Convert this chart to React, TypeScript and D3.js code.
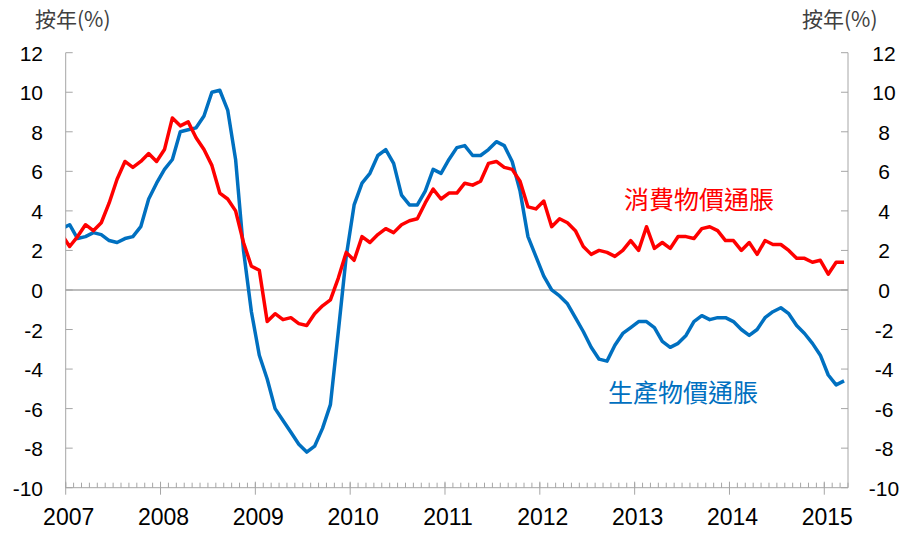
import * as React from 'react';
import * as d3 from 'd3';

// monthly, Dec 2006 .. Mar 2015 (year-on-year %)
const startYear = 2006;
const startMonth = 11; // December (0-based)
const cpi = [
  2.8,
  2.2, 2.7, 3.3, 3.0, 3.4, 4.4, 5.6, 6.5, 6.2, 6.5, 6.9, 6.5,
  7.1, 8.7, 8.3, 8.5, 7.7, 7.1, 6.3, 4.9, 4.6, 4.0, 2.4, 1.2,
  1.0, -1.6, -1.2, -1.5, -1.4, -1.7, -1.8, -1.2, -0.8, -0.5, 0.6, 1.9,
  1.5, 2.7, 2.4, 2.8, 3.1, 2.9, 3.3, 3.5, 3.6, 4.4, 5.1, 4.6,
  4.9, 4.9, 5.4, 5.3, 5.5, 6.4, 6.5, 6.2, 6.1, 5.5, 4.2, 4.1,
  4.5, 3.2, 3.6, 3.4, 3.0, 2.2, 1.8, 2.0, 1.9, 1.7, 2.0, 2.5,
  2.0, 3.2, 2.1, 2.4, 2.1, 2.7, 2.7, 2.6, 3.1, 3.2, 3.0, 2.5,
  2.5, 2.0, 2.4, 1.8, 2.5, 2.3, 2.3, 2.0, 1.6, 1.6, 1.4, 1.5,
  0.8, 1.4, 1.4,
];
const ppi = [
  3.1,
  3.3, 2.6, 2.7, 2.9, 2.8, 2.5, 2.4, 2.6, 2.7, 3.2, 4.6, 5.4,
  6.1, 6.6, 8.0, 8.1, 8.2, 8.8, 10.0, 10.1, 9.1, 6.6, 2.0, -1.1,
  -3.3, -4.5, -6.0, -6.6, -7.2, -7.8, -8.2, -7.9, -7.0, -5.8, -2.1, 1.7,
  4.3, 5.4, 5.9, 6.8, 7.1, 6.4, 4.8, 4.3, 4.3, 5.0, 6.1, 5.9,
  6.6, 7.2, 7.3, 6.8, 6.8, 7.1, 7.5, 7.3, 6.5, 5.0, 2.7, 1.7,
  0.7, 0.0, -0.3, -0.7, -1.4, -2.1, -2.9, -3.5, -3.6, -2.8, -2.2, -1.9,
  -1.6, -1.6, -1.9, -2.6, -2.9, -2.7, -2.3, -1.6, -1.3, -1.5, -1.4, -1.4,
  -1.6, -2.0, -2.3, -2.0, -1.4, -1.1, -0.9, -1.2, -1.8, -2.2, -2.7, -3.3,
  -4.3, -4.8, -4.6,
];
const yearLabels = ['2007', '2008', '2009', '2010', '2011', '2012', '2013', '2014', '2015'];
const yTicks = [12, 10, 8, 6, 4, 2, 0, -2, -4, -6, -8, -10];
const cpiLabel = '消費物價通脹';
const ppiLabel = '生產物價通脹';
const axisTitle = '按年(%)';

const W = 912;
const H = 535;
const left = 65.7;
const right = 848;
const top = 52.7;
const bottom = 487.7;
const totalMonths = 99; // Jan 2007 .. Mar 2015 + 1
const numFont = '"Liberation Sans", Arial, sans-serif';
const cjkFont = '"Noto Sans CJK TC", "Noto Sans CJK SC", sans-serif';

// month index counted from Jan 2007
const idx = (i: number) => (startYear - 2007) * 12 + startMonth + i;

export default function App() {
  const x = d3.scaleLinear().domain([0, totalMonths]).range([left, right]);
  const y = d3.scaleLinear().domain([-10, 12]).range([bottom, top]);

  const line = d3.line<number>()
    .x((_, i) => x(idx(i) + 0.5))
    .y(d => y(d));

  const minor = d3.range(0, totalMonths + 1);
  const major = yearLabels.map((_, i) => i * 12);
  const grey = '#A6A6A6';

  return (
    <svg width={W} height={H} style={{ position: 'absolute', left: 0, top: 0, background: '#fff' }}>
      <defs>
        <clipPath id="plot">
          <rect x={left} y={0} width={right - left} height={H} />
        </clipPath>
      </defs>

      {/* axis titles */}
      <text x={35} y={27} fontFamily={cjkFont} fontSize={21} fill="#404040">{axisTitle}</text>
      <text x={802} y={27} fontFamily={cjkFont} fontSize={21} fill="#404040">{axisTitle}</text>

      {/* zero line */}
      <line x1={left} x2={right} y1={y(0)} y2={y(0)} stroke={grey} strokeWidth={1.5} />

      {/* left axis */}
      <line x1={left} x2={left} y1={top} y2={bottom} stroke={grey} />
      {yTicks.map(t => (
        <g key={'l' + t}>
          <line x1={left} x2={left + 7} y1={y(t)} y2={y(t)} stroke={grey} />
          <text x={43} y={y(t) + 8} textAnchor="end" fontFamily={numFont} fontSize={21} fill="#000">{t}</text>
        </g>
      ))}

      {/* right axis */}
      <line x1={right} x2={right} y1={top} y2={bottom} stroke={grey} />
      {yTicks.map(t => (
        <g key={'r' + t}>
          <line x1={right - 7} x2={right} y1={y(t)} y2={y(t)} stroke={grey} />
          <text x={884} y={y(t) + 8} textAnchor="middle" fontFamily={numFont} fontSize={21} fill="#000">{t}</text>
        </g>
      ))}

      {/* bottom axis */}
      <line x1={left} x2={right} y1={bottom} y2={bottom} stroke={grey} />
      {minor.map(m => (
        <line key={'m' + m} x1={x(m)} x2={x(m)} y1={bottom - 5} y2={bottom} stroke={grey} />
      ))}
      {major.map((m, i) => (
        <g key={'y' + m}>
          <line x1={x(m)} x2={x(m)} y1={bottom - 6} y2={bottom + 7} stroke={grey} />
          <text x={x(m) + 3} y={525} textAnchor="middle" fontFamily={numFont} fontSize={23} fill="#000">{yearLabels[i]}</text>
        </g>
      ))}

      {/* series */}
      <g clipPath="url(#plot)">
        <path d={line(ppi) ?? ''} fill="none" stroke="#0070C0" strokeWidth={3.5} strokeLinejoin="round" />
        <path d={line(cpi) ?? ''} fill="none" stroke="#FF0000" strokeWidth={3.5} strokeLinejoin="round" />
      </g>

      <text x={699} y={209} textAnchor="middle" fontFamily={cjkFont} fontSize={25} fill="#FF0000">{cpiLabel}</text>
      <text x={683} y={402} textAnchor="middle" fontFamily={cjkFont} fontSize={25} fill="#0070C0">{ppiLabel}</text>
    </svg>
  );
}
